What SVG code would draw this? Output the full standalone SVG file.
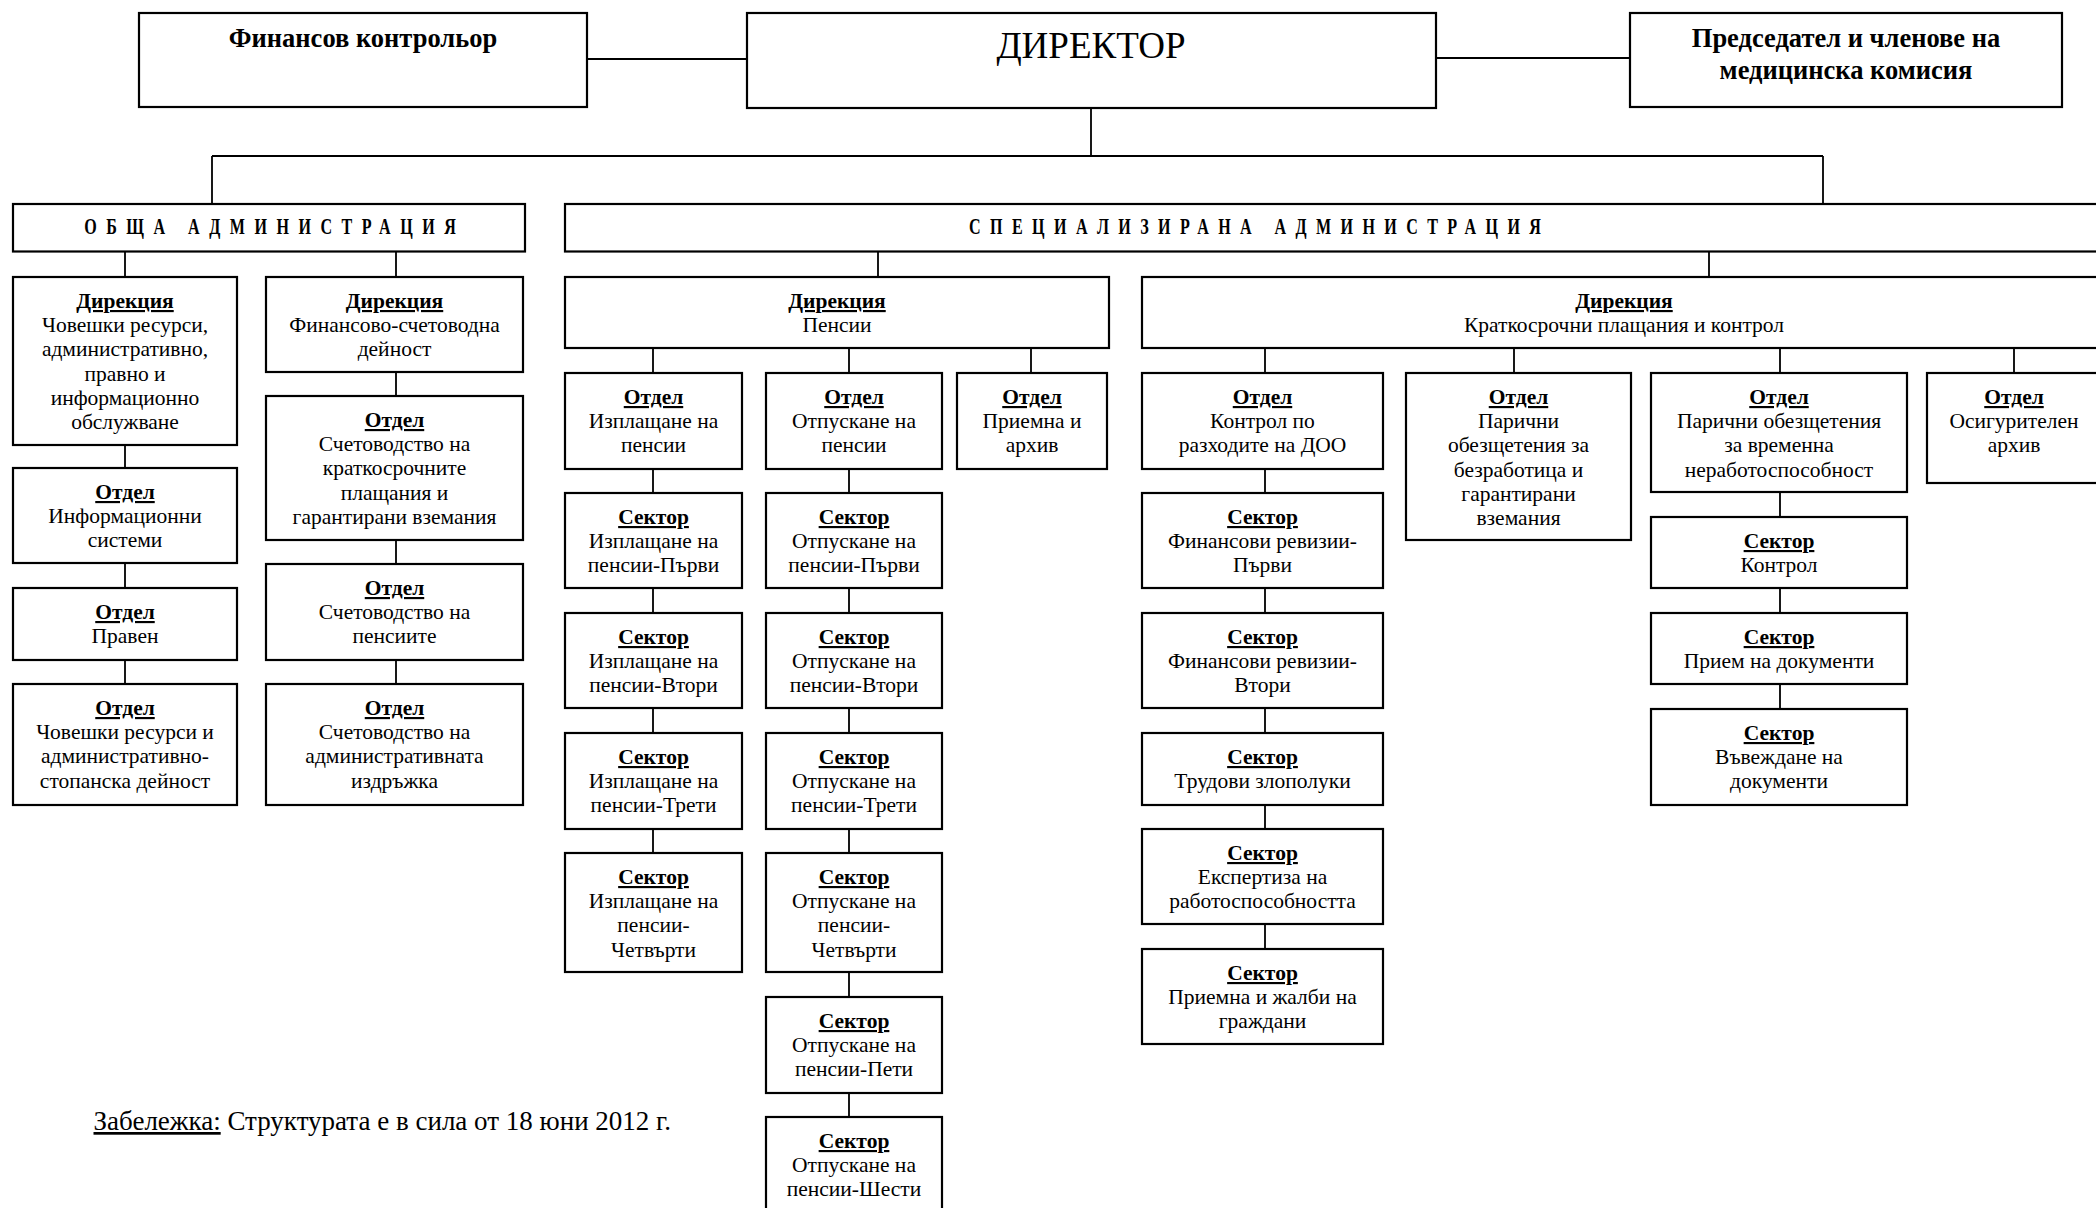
<svg xmlns="http://www.w3.org/2000/svg" width="2096" height="1208" viewBox="0 0 2096 1208">
<style>
rect{fill:#fff;stroke:#000;stroke-width:2.2}
#connectors path{stroke:#000;stroke-width:1.8;fill:none}
text{font-family:"Liberation Serif","Times New Roman",serif;font-size:21.5px;fill:#000;text-anchor:middle}
.h{font-weight:bold;text-decoration:underline}
.top{font-weight:bold;font-size:26.5px}
.sp{font-weight:bold;font-size:23px}
</style>
<rect x="-10" y="-10" width="2120" height="1230" style="fill:#fff;stroke:none"/>
<g id="connectors">
<path d="M587 59H747M1436 58H1630M1091 108V156M212 156H1823M212 156V204M1823 156V204"/>
<path d="M125 252V277M396 252V277M878 252V277M1709 252V277"/>
<path d="M125 445V468M125 563V588M125 660V684"/>
<path d="M396 372V396M396 540V564M396 660V684"/>
<path d="M653 348V373M849 348V373M1031 348V373"/>
<path d="M653 469V493M653 588V613M653 708V733M653 829V853"/>
<path d="M849 469V493M849 588V613M849 708V733M849 829V853M849 972V997M849 1093V1117"/>
<path d="M1265 348V373M1514 348V373M1780 348V373M2014 348V373"/>
<path d="M1265 469V493M1265 588V613M1265 708V733M1265 805V829M1265 924V949"/>
<path d="M1780 492V517M1780 588V613M1780 684V709"/>
</g>
<g id="fin"><rect x="139" y="13" width="448" height="94"/><text class="top" x="363" y="47">Финансов контрольор</text></g>
<g id="director"><rect x="747" y="13" width="689" height="95"/><text x="1091" y="58" style="font-size:37px">ДИРЕКТОР</text></g>
<g id="commission"><rect x="1630" y="13" width="432" height="94"/><text class="top" x="1846" y="46.5">Председател и членове на<tspan x="1846" dy="32.5">медицинска комисия</tspan></text></g>
<g id="general"><rect x="13" y="204" width="512" height="47.5"/><text class="sp" transform="translate(270,234) scale(0.7,1)" textLength="531" lengthAdjust="spacing">ОБЩА АДМИНИСТРАЦИЯ</text></g>
<g id="special"><rect x="565" y="204" width="1545" height="47.5"/><text class="sp" transform="translate(1255,234) scale(0.7,1)" textLength="817" lengthAdjust="spacing">СПЕЦИАЛИЗИРАНА АДМИНИСТРАЦИЯ</text></g>

<g id="a1"><rect x="13" y="277" width="224" height="168"/><text x="125" y="308"><tspan class="h">Дирекция</tspan><tspan x="125" dy="24.2">Човешки ресурси,</tspan><tspan x="125" dy="24.2">административно,</tspan><tspan x="125" dy="24.2">правно и</tspan><tspan x="125" dy="24.2">информационно</tspan><tspan x="125" dy="24.2">обслужване</tspan></text></g>
<g id="a2"><rect x="13" y="468" width="224" height="95"/><text x="125" y="499"><tspan class="h">Отдел</tspan><tspan x="125" dy="24.2">Информационни</tspan><tspan x="125" dy="24.2">системи</tspan></text></g>
<g id="a3"><rect x="13" y="588" width="224" height="72"/><text x="125" y="619"><tspan class="h">Отдел</tspan><tspan x="125" dy="24.2">Правен</tspan></text></g>
<g id="a4"><rect x="13" y="684" width="224" height="121"/><text x="125" y="715"><tspan class="h">Отдел</tspan><tspan x="125" dy="24.2">Човешки ресурси и</tspan><tspan x="125" dy="24.2">административно-</tspan><tspan x="125" dy="24.2">стопанска дейност</tspan></text></g>

<g id="b1"><rect x="266" y="277" width="257" height="95"/><text x="394.5" y="308"><tspan class="h">Дирекция</tspan><tspan x="394.5" dy="24.2">Финансово-счетоводна</tspan><tspan x="394.5" dy="24.2">дейност</tspan></text></g>
<g id="b2"><rect x="266" y="396" width="257" height="144"/><text x="394.5" y="427"><tspan class="h">Отдел</tspan><tspan x="394.5" dy="24.2">Счетоводство на</tspan><tspan x="394.5" dy="24.2">краткосрочните</tspan><tspan x="394.5" dy="24.2">плащания и</tspan><tspan x="394.5" dy="24.2">гарантирани вземания</tspan></text></g>
<g id="b3"><rect x="266" y="564" width="257" height="96"/><text x="394.5" y="595"><tspan class="h">Отдел</tspan><tspan x="394.5" dy="24.2">Счетоводство на</tspan><tspan x="394.5" dy="24.2">пенсиите</tspan></text></g>
<g id="b4"><rect x="266" y="684" width="257" height="121"/><text x="394.5" y="715"><tspan class="h">Отдел</tspan><tspan x="394.5" dy="24.2">Счетоводство на</tspan><tspan x="394.5" dy="24.2">административната</tspan><tspan x="394.5" dy="24.2">издръжка</tspan></text></g>

<g id="pensions"><rect x="565" y="277" width="544" height="71"/><text x="837" y="308"><tspan class="h">Дирекция</tspan><tspan x="837" dy="24.2">Пенсии</tspan></text></g>
<g id="p1"><rect x="565" y="373" width="177" height="96"/><text x="653.5" y="404"><tspan class="h">Отдел</tspan><tspan x="653.5" dy="24.2">Изплащане на</tspan><tspan x="653.5" dy="24.2">пенсии</tspan></text></g>
<g id="p1s1"><rect x="565" y="493" width="177" height="95"/><text x="653.5" y="524"><tspan class="h">Сектор</tspan><tspan x="653.5" dy="24.2">Изплащане на</tspan><tspan x="653.5" dy="24.2">пенсии-Първи</tspan></text></g>
<g id="p1s2"><rect x="565" y="613" width="177" height="95"/><text x="653.5" y="644"><tspan class="h">Сектор</tspan><tspan x="653.5" dy="24.2">Изплащане на</tspan><tspan x="653.5" dy="24.2">пенсии-Втори</tspan></text></g>
<g id="p1s3"><rect x="565" y="733" width="177" height="96"/><text x="653.5" y="764"><tspan class="h">Сектор</tspan><tspan x="653.5" dy="24.2">Изплащане на</tspan><tspan x="653.5" dy="24.2">пенсии-Трети</tspan></text></g>
<g id="p1s4"><rect x="565" y="853" width="177" height="119"/><text x="653.5" y="884"><tspan class="h">Сектор</tspan><tspan x="653.5" dy="24.2">Изплащане на</tspan><tspan x="653.5" dy="24.2">пенсии-</tspan><tspan x="653.5" dy="24.2">Четвърти</tspan></text></g>

<g id="p2"><rect x="766" y="373" width="176" height="96"/><text x="854" y="404"><tspan class="h">Отдел</tspan><tspan x="854" dy="24.2">Отпускане на</tspan><tspan x="854" dy="24.2">пенсии</tspan></text></g>
<g id="p2s1"><rect x="766" y="493" width="176" height="95"/><text x="854" y="524"><tspan class="h">Сектор</tspan><tspan x="854" dy="24.2">Отпускане на</tspan><tspan x="854" dy="24.2">пенсии-Първи</tspan></text></g>
<g id="p2s2"><rect x="766" y="613" width="176" height="95"/><text x="854" y="644"><tspan class="h">Сектор</tspan><tspan x="854" dy="24.2">Отпускане на</tspan><tspan x="854" dy="24.2">пенсии-Втори</tspan></text></g>
<g id="p2s3"><rect x="766" y="733" width="176" height="96"/><text x="854" y="764"><tspan class="h">Сектор</tspan><tspan x="854" dy="24.2">Отпускане на</tspan><tspan x="854" dy="24.2">пенсии-Трети</tspan></text></g>
<g id="p2s4"><rect x="766" y="853" width="176" height="119"/><text x="854" y="884"><tspan class="h">Сектор</tspan><tspan x="854" dy="24.2">Отпускане на</tspan><tspan x="854" dy="24.2">пенсии-</tspan><tspan x="854" dy="24.2">Четвърти</tspan></text></g>
<g id="p2s5"><rect x="766" y="997" width="176" height="96"/><text x="854" y="1028"><tspan class="h">Сектор</tspan><tspan x="854" dy="24.2">Отпускане на</tspan><tspan x="854" dy="24.2">пенсии-Пети</tspan></text></g>
<g id="p2s6"><rect x="766" y="1117" width="176" height="100"/><text x="854" y="1148"><tspan class="h">Сектор</tspan><tspan x="854" dy="24.2">Отпускане на</tspan><tspan x="854" dy="24.2">пенсии-Шести</tspan></text></g>

<g id="p3"><rect x="957" y="373" width="150" height="96"/><text x="1032" y="404"><tspan class="h">Отдел</tspan><tspan x="1032" dy="24.2">Приемна и</tspan><tspan x="1032" dy="24.2">архив</tspan></text></g>

<g id="short"><rect x="1142" y="277" width="968" height="71"/><text x="1624" y="308"><tspan class="h">Дирекция</tspan><tspan x="1624" dy="24.2">Краткосрочни плащания и контрол</tspan></text></g>
<g id="k1"><rect x="1142" y="373" width="241" height="96"/><text x="1262.5" y="404"><tspan class="h">Отдел</tspan><tspan x="1262.5" dy="24.2">Контрол по</tspan><tspan x="1262.5" dy="24.2">разходите на ДОО</tspan></text></g>
<g id="k1s1"><rect x="1142" y="493" width="241" height="95"/><text x="1262.5" y="524"><tspan class="h">Сектор</tspan><tspan x="1262.5" dy="24.2">Финансови ревизии-</tspan><tspan x="1262.5" dy="24.2">Първи</tspan></text></g>
<g id="k1s2"><rect x="1142" y="613" width="241" height="95"/><text x="1262.5" y="644"><tspan class="h">Сектор</tspan><tspan x="1262.5" dy="24.2">Финансови ревизии-</tspan><tspan x="1262.5" dy="24.2">Втори</tspan></text></g>
<g id="k1s3"><rect x="1142" y="733" width="241" height="72"/><text x="1262.5" y="764"><tspan class="h">Сектор</tspan><tspan x="1262.5" dy="24.2">Трудови злополуки</tspan></text></g>
<g id="k1s4"><rect x="1142" y="829" width="241" height="95"/><text x="1262.5" y="860"><tspan class="h">Сектор</tspan><tspan x="1262.5" dy="24.2">Експертиза на</tspan><tspan x="1262.5" dy="24.2">работоспособността</tspan></text></g>
<g id="k1s5"><rect x="1142" y="949" width="241" height="95"/><text x="1262.5" y="980"><tspan class="h">Сектор</tspan><tspan x="1262.5" dy="24.2">Приемна и жалби на</tspan><tspan x="1262.5" dy="24.2">граждани</tspan></text></g>

<g id="k2"><rect x="1406" y="373" width="225" height="167"/><text x="1518.5" y="404"><tspan class="h">Отдел</tspan><tspan x="1518.5" dy="24.2">Парични</tspan><tspan x="1518.5" dy="24.2">обезщетения за</tspan><tspan x="1518.5" dy="24.2">безработица и</tspan><tspan x="1518.5" dy="24.2">гарантирани</tspan><tspan x="1518.5" dy="24.2">вземания</tspan></text></g>

<g id="k3"><rect x="1651" y="373" width="256" height="119"/><text x="1779" y="404"><tspan class="h">Отдел</tspan><tspan x="1779" dy="24.2">Парични обезщетения</tspan><tspan x="1779" dy="24.2">за временна</tspan><tspan x="1779" dy="24.2">неработоспособност</tspan></text></g>
<g id="k3s1"><rect x="1651" y="517" width="256" height="71"/><text x="1779" y="548"><tspan class="h">Сектор</tspan><tspan x="1779" dy="24.2">Контрол</tspan></text></g>
<g id="k3s2"><rect x="1651" y="613" width="256" height="71"/><text x="1779" y="644"><tspan class="h">Сектор</tspan><tspan x="1779" dy="24.2">Прием на документи</tspan></text></g>
<g id="k3s3"><rect x="1651" y="709" width="256" height="96"/><text x="1779" y="740"><tspan class="h">Сектор</tspan><tspan x="1779" dy="24.2">Въвеждане на</tspan><tspan x="1779" dy="24.2">документи</tspan></text></g>

<g id="k4"><rect x="1927" y="373" width="174" height="110"/><text x="2014" y="404"><tspan class="h">Отдел</tspan><tspan x="2014" dy="24.2">Осигурителен</tspan><tspan x="2014" dy="24.2">архив</tspan></text></g>

<g id="note"><text x="93.5" y="1130" style="font-size:27px;text-anchor:start"><tspan style="text-decoration:underline">Забележка:</tspan> Структурата е в сила от 18 юни 2012 г.</text></g>
</svg>
